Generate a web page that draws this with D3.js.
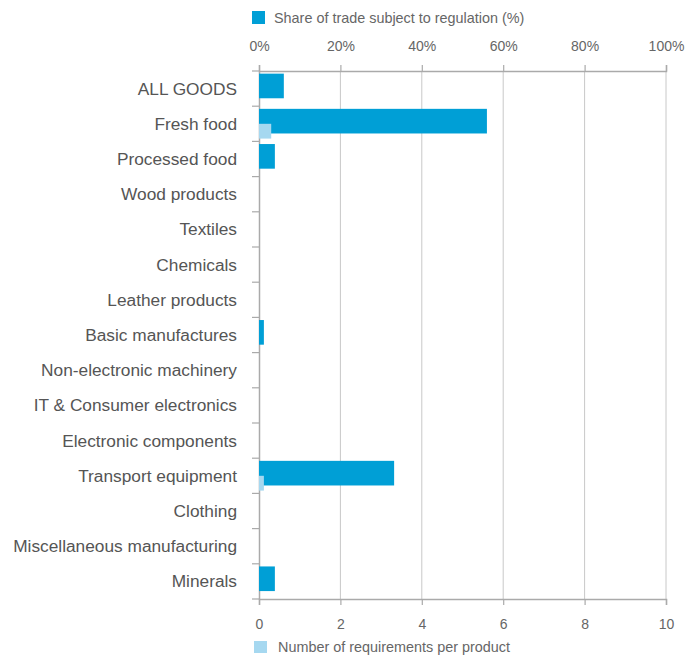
<!DOCTYPE html>
<html><head><meta charset="utf-8">
<script src="https://cdn.jsdelivr.net/npm/d3@7"></script>
<style>body{margin:0;background:#fff}svg{display:block}text{font-family:"Liberation Sans",Arial,sans-serif}</style>
</head><body><svg id="c" width="695" height="662"></svg>
<script>
const categories = ["ALL GOODS","Fresh food","Processed food","Wood products","Textiles","Chemicals","Leather products","Basic manufactures","Non-electronic machinery","IT & Consumer electronics","Electronic components","Transport equipment","Clothing","Miscellaneous manufacturing","Minerals"];
const shareRegulated = [6.1,56,3.9,0,0,0,0,1.2,0,0,0,33.2,0,0,3.9];
const requirementsPerProduct = [0,0.3,0,0,0,0,0,0,0,0,0,0.12,0,0,0];
const topTicks = [0,20,40,60,80,100];
const bottomTicks = [0,2,4,6,8,10];
const seriesNames = ["Share of trade subject to regulation (%)","Number of requirements per product"];

const svg = d3.select("#c");
const L = 259, R = 666, T = 71, B = 599;
const xTop = d3.scaleLinear().domain([0,100]).range([L,R]);
const xBot = d3.scaleLinear().domain([0,10]).range([L,R]);
const y = d3.scaleBand().domain(categories).range([T,B]).padding(0);
const bw = y.bandwidth();
const BLUE = "#009fd6", LIGHT = "#a6d8f0", AX = "#aaaaaa", GRID = "#c8c8c8";

// gridlines
svg.append("g").selectAll("line").data(topTicks.slice(1)).join("line")
  .attr("x1", d=>xTop(d)).attr("x2", d=>xTop(d)).attr("y1", T).attr("y2", B)
  .attr("stroke", GRID).attr("stroke-width", 1);

// top axis
const gT = svg.append("g").attr("transform", `translate(0,${T})`)
  .call(d3.axisTop(xTop).tickValues(topTicks).tickFormat(d=>d+"%").tickSize(6).tickPadding(14));
// bottom axis
const gB = svg.append("g").attr("transform", `translate(0,${B})`)
  .call(d3.axisBottom(xBot).tickValues(bottomTicks).tickSize(6).tickPadding(14));
[gT,gB].forEach(g=>{
  g.select(".domain").attr("stroke", AX).attr("stroke-width", 1.5);
  g.selectAll(".tick line").attr("stroke", AX).attr("stroke-width", 1.2);
  g.selectAll("text").attr("fill", "#666").style("font-size","14px").style("font-family","Liberation Sans, Arial");
});
// left axis
const gL = svg.append("g").attr("transform", `translate(${L},0)`)
  .call(d3.axisLeft(y).tickValues([]).tickSize(0));
gL.select(".domain").attr("stroke", AX).attr("stroke-width", 1.5);
svg.append("g").selectAll("line").data(d3.range(categories.length+1)).join("line")
  .attr("x1", L-7).attr("x2", L).attr("y1", i=>T+i*y.step()).attr("y2", i=>T+i*y.step())
  .attr("stroke", AX).attr("stroke-width", 1.2);
svg.append("g").selectAll("text").data(categories).join("text")
  .attr("x", 237).attr("y", d=>y(d)+bw/2).attr("dy","0.35em").attr("text-anchor","end")
  .attr("fill","#555").style("font-size","17.3px").text(d=>d);

// bars
svg.append("g").selectAll("rect").data(categories).join("rect")
  .attr("x", xTop(0)).attr("y", d=>y(d)+bw*0.075).attr("height", bw*0.7)
  .attr("width", (d,i)=>xTop(shareRegulated[i])-xTop(0)).attr("fill", BLUE);
svg.append("g").selectAll("rect").data(categories).join("rect")
  .attr("x", xBot(0)).attr("y", d=>y(d)+bw*0.5).attr("height", bw*0.42)
  .attr("width", (d,i)=>xBot(requirementsPerProduct[i])-xBot(0)).attr("fill", LIGHT);

// legends
svg.append("rect").attr("x",252).attr("y",11).attr("width",13).attr("height",13).attr("fill",BLUE);
svg.append("text").attr("x",274).attr("y",17.5).attr("dy","0.35em").attr("fill","#666").style("font-size","14.4px").text(seriesNames[0]);
svg.append("rect").attr("x",254).attr("y",641).attr("width",13).attr("height",12).attr("fill",LIGHT);
svg.append("text").attr("x",278).attr("y",647).attr("dy","0.35em").attr("fill","#666").style("font-size","14.4px").text(seriesNames[1]);
</script></body></html>
